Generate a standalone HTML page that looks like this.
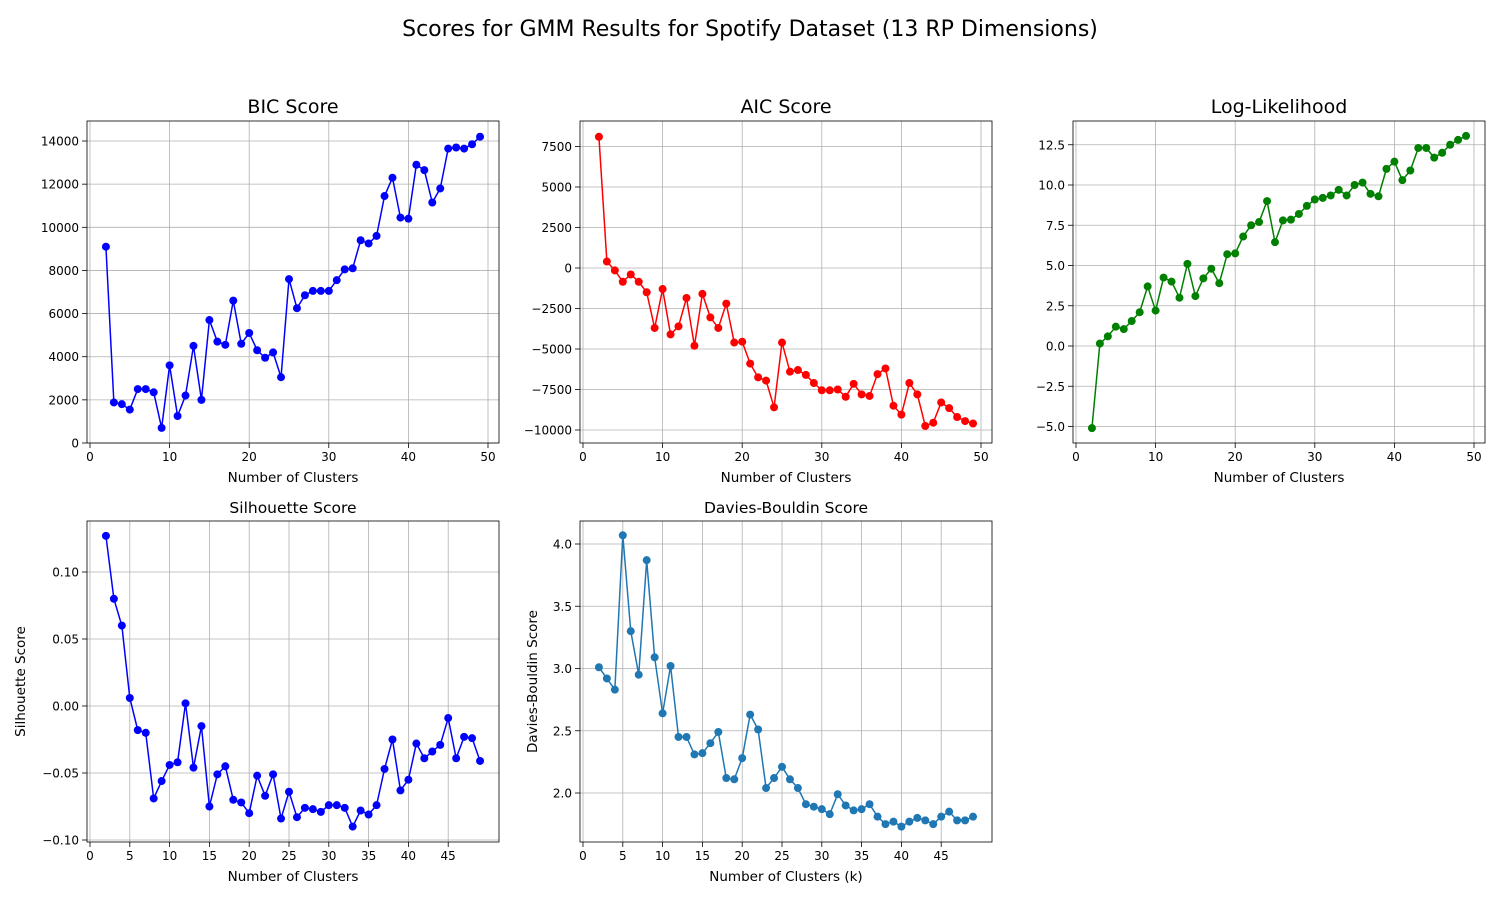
<!DOCTYPE html>
<html><head><meta charset="utf-8">
<style>
body{margin:0;background:#fff;}
svg{display:block;font-family:"DejaVu Sans","Liberation Sans",sans-serif;}
</style></head>
<body>
<svg id="fig" width="1500" height="900" viewBox="0 0 1500 900">
<text x="750" y="36" font-size="22" text-anchor="middle" fill="#000">Scores for GMM Results for Spotify Dataset (13 RP Dimensions)</text>
</svg>
<script>
const ks = [2,3,4,5,6,7,8,9,10,11,12,13,14,15,16,17,18,19,20,21,22,23,24,25,26,27,28,29,30,31,32,33,34,35,36,37,38,39,40,41,42,43,44,45,46,47,48,49];
const bicValues = [9100,1880,1800,1550,2500,2500,2350,700,3600,1250,2200,4500,2000,5700,4700,4550,6600,4600,5100,4300,3950,4200,3050,7600,6250,6850,7050,7050,7050,7550,8050,8100,9400,9250,9600,11450,12300,10450,10400,12900,12650,11150,11800,13650,13700,13650,13850,14200];
const aicValues = [8100,400,-150,-850,-400,-850,-1500,-3700,-1300,-4100,-3600,-1850,-4800,-1600,-3050,-3700,-2200,-4600,-4550,-5900,-6750,-6950,-8600,-4600,-6400,-6300,-6600,-7100,-7550,-7550,-7500,-7950,-7150,-7800,-7900,-6550,-6200,-8500,-9050,-7100,-7800,-9750,-9550,-8300,-8650,-9200,-9450,-9600];
const llValues = [-5.1,0.15,0.6,1.2,1.05,1.55,2.1,3.7,2.2,4.25,4.0,3.0,5.1,3.1,4.2,4.8,3.9,5.7,5.75,6.8,7.5,7.7,9.0,6.45,7.8,7.85,8.2,8.7,9.1,9.2,9.35,9.7,9.35,10.0,10.15,9.45,9.3,11.0,11.45,10.3,10.9,12.3,12.3,11.7,12.0,12.5,12.8,13.05];
const silValues = [0.127,0.080,0.060,0.006,-0.018,-0.020,-0.069,-0.056,-0.044,-0.042,0.002,-0.046,-0.015,-0.075,-0.051,-0.045,-0.070,-0.072,-0.080,-0.052,-0.067,-0.051,-0.084,-0.064,-0.083,-0.076,-0.077,-0.079,-0.074,-0.074,-0.076,-0.090,-0.078,-0.081,-0.074,-0.047,-0.025,-0.063,-0.055,-0.028,-0.039,-0.034,-0.029,-0.009,-0.039,-0.023,-0.024,-0.041];
const dbValues = [3.01,2.92,2.83,4.07,3.30,2.95,3.87,3.09,2.64,3.02,2.45,2.45,2.31,2.32,2.40,2.49,2.12,2.11,2.28,2.63,2.51,2.04,2.12,2.21,2.11,2.04,1.91,1.89,1.87,1.83,1.99,1.90,1.86,1.87,1.91,1.81,1.75,1.77,1.73,1.77,1.80,1.78,1.75,1.81,1.85,1.78,1.78,1.81];
const xTicks50 = [0,10,20,30,40,50];
const xTicks45 = [0,5,10,15,20,25,30,35,40,45];
const bicTicks = [0,2000,4000,6000,8000,10000,12000,14000];
const aicTicks = [-10000,-7500,-5000,-2500,0,2500,5000,7500];
const llTicks = [-5.0,-2.5,0.0,2.5,5.0,7.5,10.0,12.5];
const silTicks = [-0.10,-0.05,0.00,0.05,0.10];
const dbTicks = [2.0,2.5,3.0,3.5,4.0];

const NS = "http://www.w3.org/2000/svg";
const fig = document.getElementById('fig');
function mk(tag, attrs, parent){const e=document.createElementNS(NS,tag);for(const k in attrs)e.setAttribute(k,attrs[k]);(parent||fig).appendChild(e);return e;}

function plot(o){
  const g = mk('g',{});
  
  
  const sx = v => o.xa + v*o.xs;
  const sy = v => o.ya - (v-o.y0)*o.ys;
  o.xticks.forEach(t=>{
    const x=sx(t);
    const gl=mk('line',{x1:x,x2:x,y1:o.t,y2:o.b,stroke:'#b0b0b0','stroke-width':0.8},g);
    
    
    mk('line',{x1:x,x2:x,y1:o.b,y2:o.b+5,stroke:'#000','stroke-width':0.8},g);
    const tx=mk('text',{x:x,y:o.b+18,'font-size':12,'text-anchor':'middle'},g);
    tx.textContent=t;
    
    
  });
  o.yticks.forEach(t=>{
    const y=sy(t);
    const gl=mk('line',{x1:o.l,x2:o.r,y1:y,y2:y,stroke:'#b0b0b0','stroke-width':0.8},g);
    
    
    mk('line',{x1:o.l-5,x2:o.l,y1:y,y2:y,stroke:'#000','stroke-width':0.8},g);
    const tx=mk('text',{x:o.l-8,y:y+4.5,'font-size':12,'text-anchor':'end'},g);
    tx.textContent=o.fmt(t);
    
    
  });
  const pts = ks.map((k,i)=>sx(k)+','+sy(o.vals[i])).join(' ');
  const pl=mk('polyline',{points:pts,fill:'none',stroke:o.color,'stroke-width':1.5},g);
  
  
  ks.forEach((k,i)=>{
    const c=mk('circle',{cx:sx(k),cy:sy(o.vals[i]),r:4,fill:o.color},g);
    
    
  });
  const fr=mk('rect',{x:o.l,y:o.t,width:o.r-o.l,height:o.b-o.t,fill:'none',stroke:'#000','stroke-width':0.8},g);
  
  
  const ti=mk('text',{x:(o.l+o.r)/2,y:o.t-8,'font-size':o.tsize,'text-anchor':'middle'},g);
  ti.textContent=o.title;
  
  
  const xl=mk('text',{x:(o.l+o.r)/2,y:o.b+39,'font-size':13.5,'text-anchor':'middle'},g);
  xl.textContent=o.xlabel;
  
  
  if(o.ylabel){
    const cx=o.l-o.ylo, cy=(o.t+o.b)/2;
    const yl=mk('text',{x:cx,y:cy,'font-size':13.5,'text-anchor':'middle',transform:`rotate(-90 ${cx} ${cy})`},g);
    yl.textContent=o.ylabel;
    
    
  }
}
plot({name:'bic-chart',l:87,r:499,t:121,b:443,xa:90,xs:7.96,ya:443,y0:0,ys:0.02157,vals:bicValues,color:'#0000ff',xticks:xTicks50,yticks:bicTicks,fmt:t=>String(t),title:'BIC Score',tsize:19,xlabel:'Number of Clusters'});
plot({name:'aic-chart',l:580,r:992,t:121,b:443,xa:583,xs:7.96,ya:268,y0:0,ys:0.0162,vals:aicValues,color:'#ff0000',xticks:xTicks50,yticks:aicTicks,fmt:t=>String(t).replace('-','−'),title:'AIC Score',tsize:19,xlabel:'Number of Clusters'});
plot({name:'log-likelihood-chart',l:1073,r:1485,t:121,b:443,xa:1076,xs:7.96,ya:346,y0:0,ys:16.1,vals:llValues,color:'#008000',xticks:xTicks50,yticks:llTicks,fmt:t=>t.toFixed(1).replace('-','−'),title:'Log-Likelihood',tsize:19,xlabel:'Number of Clusters'});
plot({name:'silhouette-chart',l:87,r:499,t:521,b:842,xa:90,xs:7.96,ya:706,y0:0,ys:1340,vals:silValues,color:'#0000ff',xticks:xTicks45,yticks:silTicks,fmt:t=>t.toFixed(2).replace('-','−'),title:'Silhouette Score',tsize:15.5,xlabel:'Number of Clusters',ylabel:'Silhouette Score',ylo:62});
plot({name:'davies-bouldin-chart',l:580,r:992,t:521,b:842,xa:583,xs:7.96,ya:793,y0:2.0,ys:124.5,vals:dbValues,color:'#1f77b4',xticks:xTicks45,yticks:dbTicks,fmt:t=>t.toFixed(1),title:'Davies-Bouldin Score',tsize:15.5,xlabel:'Number of Clusters (k)',ylabel:'Davies-Bouldin Score',ylo:43});
</script>
</body></html>
